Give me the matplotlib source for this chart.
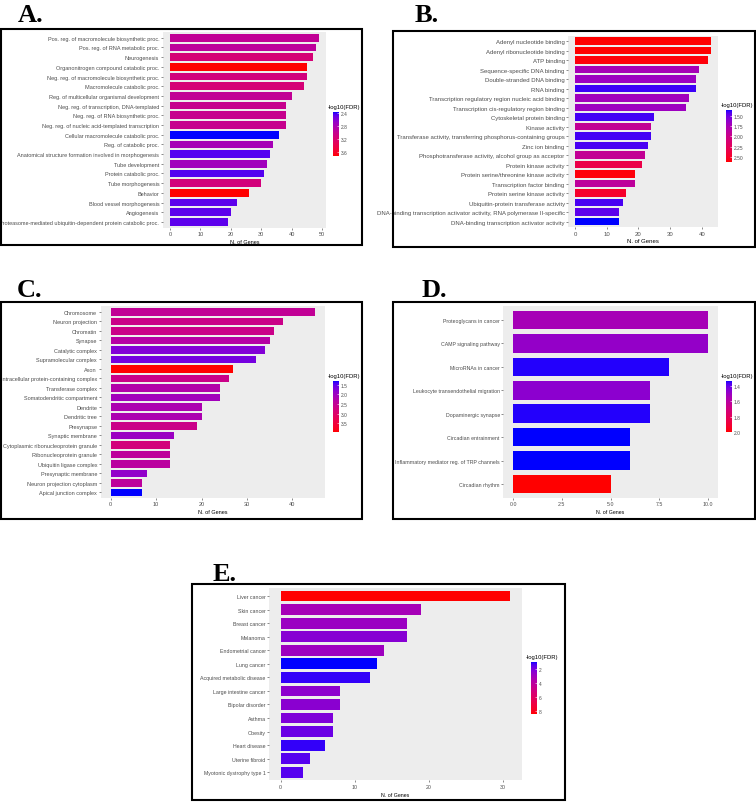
#!/usr/bin/env python3
import numpy as np
import matplotlib
matplotlib.use("Agg")
import matplotlib.pyplot as plt
from matplotlib.colors import ListedColormap, Normalize
from matplotlib.cm import ScalarMappable
from matplotlib.patches import Rectangle

W, H = 756, 804

# ---- A. biological process (top to bottom as drawn)
a_terms = [
    "Pos. reg. of macromolecule biosynthetic proc.",
    "Pos. reg. of RNA metabolic proc.",
    "Neurogenesis",
    "Organonitrogen compound catabolic proc.",
    "Neg. reg. of macromolecule biosynthetic proc.",
    "Macromolecule catabolic proc.",
    "Reg. of multicellular organismal development",
    "Neg. reg. of transcription, DNA-templated",
    "Neg. reg. of RNA biosynthetic proc.",
    "Neg. reg. of nucleic acid-templated transcription",
    "Cellular macromolecule catabolic proc.",
    "Reg. of catabolic proc.",
    "Anatomical structure formation involved in morphogenesis",
    "Tube development",
    "Protein catabolic proc.",
    "Tube morphogenesis",
    "Behavior",
    "Blood vessel morphogenesis",
    "Angiogenesis",
    "Proteasome-mediated ubiquitin-dependent protein catabolic proc.",
]
a_genes = [49, 48, 47, 45, 45, 44, 40, 38, 38, 38, 36, 34, 33, 32, 31, 30, 26, 22, 20, 19]
a_fdr = [2.98, 2.94, 3.16, 3.73, 3.12, 3.16, 2.98, 3.02, 3.02, 3.02,
         2.37, 2.78, 2.46, 2.75, 2.46, 3.13, 3.73, 2.48, 2.48, 2.48]

# ---- B. molecular function
b_terms = [
    "Adenyl nucleotide binding",
    "Adenyl ribonucleotide binding",
    "ATP binding",
    "Sequence-specific DNA binding",
    "Double-stranded DNA binding",
    "RNA binding",
    "Transcription regulatory region nucleic acid binding",
    "Transcription cis-regulatory region binding",
    "Cytoskeletal protein binding",
    "Kinase activity",
    "Transferase activity, transferring phosphorus-containing groups",
    "Zinc ion binding",
    "Phosphotransferase activity, alcohol group as acceptor",
    "Protein kinase activity",
    "Protein serine/threonine kinase activity",
    "Transcription factor binding",
    "Protein serine kinase activity",
    "Ubiquitin-protein transferase activity",
    "DNA-binding transcription activator activity, RNA polymerase II-specific",
    "DNA-binding transcription activator activity",
]
b_genes = [43, 43, 42, 39, 38, 38, 36, 35, 25, 24, 24, 23, 22, 21, 19, 19, 16, 15, 14, 14]
b_fdr = [2.62, 2.62, 2.60, 1.74, 1.68, 1.40, 1.71, 1.69, 1.41, 1.93,
         1.41, 1.42, 1.93, 2.34, 2.60, 1.89, 2.49, 1.42, 1.46, 1.36]

# ---- C. cellular component
c_terms = [
    "Chromosome", "Neuron projection", "Chromatin", "Synapse", "Catalytic complex",
    "Supramolecular complex", "Axon", "Intracellular protein-containing complex",
    "Transferase complex", "Somatodendritic compartment", "Dendrite", "Dendritic tree",
    "Presynapse", "Synaptic membrane", "Cytoplasmic ribonucleoprotein granule",
    "Ribonucleoprotein granule", "Ubiquitin ligase complex", "Presynaptic membrane",
    "Neuron projection cytoplasm", "Apical junction complex",
]
c_genes = [45, 38, 36, 35, 34, 32, 27, 26, 24, 24, 20, 20, 19, 14, 13, 13, 13, 8, 7, 7]
c_fdr = [2.49, 2.63, 2.63, 2.31, 1.76, 1.65, 3.94, 2.63, 2.26, 2.05,
         2.18, 2.18, 2.63, 1.97, 2.78, 2.41, 2.36, 1.89, 2.41, 1.31]

# ---- D. KEGG pathways
d_terms = [
    "Proteoglycans in cancer", "CAMP signaling pathway", "MicroRNAs in cancer",
    "Leukocyte transendothelial migration", "Dopaminergic synapse",
    "Circadian entrainment", "Inflammatory mediator reg. of TRP channels", "Circadian rhythm",
]
d_genes = [10, 10, 8, 7, 7, 6, 6, 5]
d_fdr = [1.54, 1.49, 1.35, 1.47, 1.35, 1.34, 1.34, 2.00]

# ---- E. diseases
e_terms = [
    "Liver cancer", "Skin cancer", "Breast cancer", "Melanoma", "Endometrial cancer",
    "Lung cancer", "Acquired metabolic disease", "Large intestine cancer",
    "Bipolar disorder", "Asthma", "Obesity", "Heart disease", "Uterine fibroid",
    "Myotonic dystrophy type 1",
]
e_genes = [31, 19, 17, 17, 14, 13, 12, 8, 8, 7, 7, 6, 4, 3]
e_fdr = [8.5, 3.25, 2.9, 2.35, 3.0, 1.0, 1.2, 2.5, 2.45, 2.2, 1.8, 1.2, 1.5, 1.5]


def srgb_to_lab(rgb):
    rgb = np.asarray(rgb, float)
    lin = np.where(rgb <= 0.04045, rgb / 12.92, ((rgb + 0.055) / 1.055) ** 2.4)
    M = np.array([[0.4124, 0.3576, 0.1805], [0.2126, 0.7152, 0.0722], [0.0193, 0.1192, 0.9505]])
    xyz = M @ lin / np.array([0.95047, 1.0, 1.08883])
    f = np.where(xyz > 0.008856, np.cbrt(xyz), 7.787 * xyz + 16 / 116)
    return np.array([116 * f[1] - 16, 500 * (f[0] - f[1]), 200 * (f[1] - f[2])])


def lab_to_srgb(lab):
    L, a, b = lab[:, 0], lab[:, 1], lab[:, 2]
    fy = (L + 16) / 116
    f = np.stack([fy + a / 500, fy, fy - b / 200], axis=1)
    xyz = np.where(f > 0.2069, f ** 3, (f - 16 / 116) / 7.787) * np.array([0.95047, 1.0, 1.08883])
    Minv = np.array([[3.2406, -1.5372, -0.4986], [-0.9689, 1.8758, 0.0415], [0.0557, -0.2040, 1.0570]])
    lin = np.clip(xyz @ Minv.T, 0, 1)
    rgb = np.where(lin <= 0.0031308, 12.92 * lin, 1.055 * lin ** (1 / 2.4) - 0.055)
    return np.clip(rgb, 0, 1)


# ggplot-like blue -> red gradient, interpolated in Lab
t = np.linspace(0, 1, 256)[:, None]
lab = (1 - t) * srgb_to_lab([0, 0, 1]) + t * srgb_to_lab([1, 0, 0])
CMAP = ListedColormap(lab_to_srgb(lab))


def px_rect(x0, y0, x1, y1):
    return [x0 / W, 1 - y1 / H, (x1 - x0) / W, (y1 - y0) / H]


def panel(fig, letter, terms, genes, fdr, ax_px, cax_px, frame_px, letter_px,
          xticks, xticklabels, vlim, cticks, cticklabels, fs=4.3):
    ax = fig.add_axes(px_rect(*ax_px))
    norm = Normalize(*vlim)
    y = np.arange(len(terms))
    ax.barh(y, genes, height=0.8, color=CMAP(norm(np.asarray(fdr))))
    mx = max(genes)
    ax.set_xlim(-0.05 * mx, 1.05 * mx)
    ax.set_ylim(len(terms) - 0.4, -0.6)
    ax.set_facecolor("#EDEDED")
    for s in ax.spines.values():
        s.set_visible(False)
    ax.set_yticks(y)
    ax.set_yticklabels(terms)
    ax.set_xticks(xticks)
    ax.set_xticklabels(xticklabels)
    ax.tick_params(length=1.5, width=0.4, color="#333333", labelsize=fs,
                   labelcolor="#4D4D4D", pad=1)
    ax.set_xlabel("N. of Genes", fontsize=fs, labelpad=2)

    cax = fig.add_axes(px_rect(*cax_px))
    cb = fig.colorbar(ScalarMappable(norm=norm, cmap=CMAP), cax=cax)
    cb.outline.set_visible(False)
    cax.invert_yaxis()
    cb.set_ticks(cticks)
    cb.set_ticklabels(cticklabels)
    cax.tick_params(length=1.5, width=0.4, color="white", direction="in",
                    labelsize=3.5, labelcolor="#4D4D4D", pad=1.5)
    fig.text((cax_px[0] - 5) / W, 1 - (cax_px[1] - 3) / H, "-log10(FDR)",
             fontsize=4.2, va="bottom", ha="left")

    x0, y0, x1, y1 = frame_px
    fig.add_artist(Rectangle((x0 / W, 1 - y1 / H), (x1 - x0) / W, (y1 - y0) / H,
                             transform=fig.transFigure, fill=False, lw=1.5, ec="black"))
    fig.text(letter_px[0] / W, 1 - letter_px[1] / H, letter, fontsize=19,
             fontweight="bold", family="Liberation Serif", va="baseline")


def main():
    plt.rcParams["font.family"] = ["Liberation Sans", "DejaVu Sans"]
    fig = plt.figure(figsize=(W / 100, H / 100), dpi=100)

    panel(fig, "A.", a_terms, a_genes, a_fdr,
          (162.6, 32.9, 326.4, 228.8), (333, 113, 339, 157), (1, 30, 362, 246), (18, 22),
          [0, 10, 20, 30, 40, 50], ["0", "10", "20", "30", "40", "50"],
          (2.37, 3.73), [2.4, 2.8, 3.2, 3.6], ["2.4", "2.8", "3.2", "3.6"], fs=3.95)
    panel(fig, "B.", b_terms, b_genes, b_fdr,
          (568.2, 36.5, 718.3, 228.2), (726, 111, 732, 163), (393, 32, 755, 248), (415, 22),
          [0, 10, 20, 30, 40], ["0", "10", "20", "30", "40"],
          (1.36, 2.62), [1.5, 1.75, 2.0, 2.25, 2.5], ["1.50", "1.75", "2.00", "2.25", "2.50"],
          fs=4.3)
    panel(fig, "C.", c_terms, c_genes, c_fdr,
          (100.5, 307.3, 325.2, 499), (333, 382, 339, 433), (1, 303, 362, 520), (17, 297),
          [0, 10, 20, 30, 40], ["0", "10", "20", "30", "40"],
          (1.31, 3.94), [1.5, 2.0, 2.5, 3.0, 3.5], ["1.5", "2.0", "2.5", "3.0", "3.5"], fs=4.0)
    panel(fig, "D.", d_terms, d_genes, d_fdr,
          (503.3, 307, 717.8, 499), (726, 382, 732, 433), (393, 303, 755, 520), (422, 297),
          [0, 2.5, 5, 7.5, 10], ["0.0", "2.5", "5.0", "7.5", "10.0"],
          (1.34, 2.0), [1.4, 1.6, 1.8, 2.0], ["1.4", "1.6", "1.8", "2.0"], fs=3.8)
    panel(fig, "E.", e_terms, e_genes, e_fdr,
          (269.2, 588.9, 521.9, 781.4), (531, 663, 537, 715), (192, 585, 565, 801), (213, 581),
          [0, 10, 20, 30], ["0", "10", "20", "30"],
          (1.0, 8.5), [2, 4, 6, 8], ["2", "4", "6", "8"], fs=3.8)

    fig.savefig("out.png", dpi=100)
    plt.close(fig)


if __name__ == "__main__":
    main()
